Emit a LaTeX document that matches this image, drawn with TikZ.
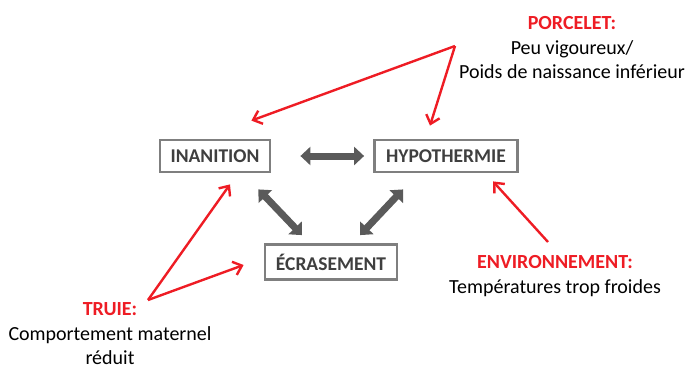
\documentclass[tikz,border=0pt]{standalone}
\usepackage{fontspec}
\setmainfont{Carlito}
\usepackage{xcolor}
\usepackage{tikz}
\usetikzlibrary{arrows.meta,calc}
\definecolor{boxgray}{HTML}{7F7F7F}
\definecolor{txtgray}{HTML}{3F3F3F}
\definecolor{arrgray}{HTML}{5A5A5A}
\definecolor{cause}{HTML}{EE1C24}
\tikzstyle{effet}=[rectangle, draw=boxgray, fill=white,% a grey frame round the effect
line width=2.8pt, minimum height=32pt, text=txtgray,
font=\fontsize{19.5}{22}\selectfont\bfseries]
\tikzstyle{lien}=[{Triangle[width=18pt,length=10pt]}-{Triangle[width=18pt,length=10pt]},
line width=7pt, draw=arrgray]
\tikzstyle{facteur}=[align=center, font=\fontsize{20}{24.5}\selectfont]
\tikzstyle{rouge}=[-{Straight Barb[length=8pt,width=14pt,line width=2.4pt]}, line width=2.4pt, draw=cause]
\newcommand{\titre}[1]{\textcolor{cause}{\textbf{#1}}}

\begin{document}
\begin{tikzpicture}[x=1pt,y={(0pt,-1pt)}]
\useasboundingbox (0,0) rectangle (687,370);
\node[effet, minimum width=110pt] (inan) at (215,156) {INANITION};
\node[effet, minimum width=143pt] (hypo) at (446,156) {HYPOTHERMIE};
\node[effet, minimum width=132pt, minimum height=35pt] (ecra) at (331,262) {ÉCRASEMENT};
\node[facteur] (porc) at (572,48) {\titre{PORCELET:}\\Peu vigoureux/\\Poids de naissance inférieur};
\node[facteur] (env) at (555,276) {\titre{ENVIRONNEMENT:}\\Températures trop froides};
\node[facteur] (truie) at (110,334) {\titre{TRUIE:}\\Comportement maternel\\réduit};
\coordinate (pA) at (455,46);
\coordinate (eA) at (548,242);
\coordinate (tA) at (148,300);
% liens entre effets
\draw[lien] ([xshift=29pt]inan.east) -- ([xshift=-9pt]hypo.west);
\draw[lien] ([shift={(-13,16)}]inan.south east) -- ([shift={(-29,-8)}]ecra.north);
\draw[lien] ([shift={(30,16)}]hypo.south west) -- ([shift={(29,-8)}]ecra.north);
% causes
\draw[rouge] (pA) -- ([shift={(-20,-18)}]inan.north east);
\draw[rouge] (pA) -- ([shift={(-16,-13)}]hypo.north);
\draw[rouge] (eA) -- ([shift={(47,8)}]hypo.south);
\draw[rouge] (tA) -- ([shift={(15,11)}]inan.south);
\draw[rouge] (tA) -- ([shift={(-20,3)}]ecra.west);
\end{tikzpicture}
\end{document}
